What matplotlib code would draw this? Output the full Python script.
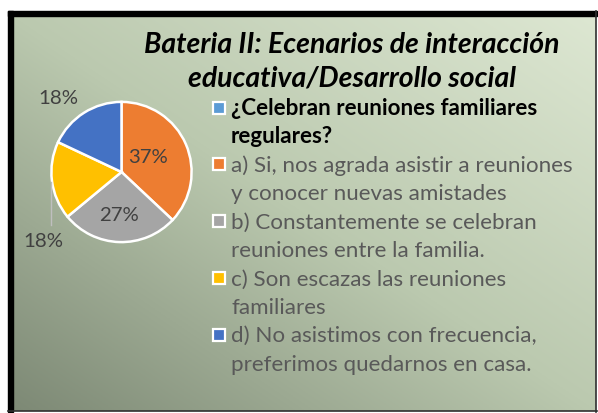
import numpy as np
import matplotlib
matplotlib.use("Agg")
import matplotlib.pyplot as plt
from matplotlib.patches import Rectangle

# chart data
title_lines = ["Bateria II: Ecenarios de interacción", "educativa/Desarrollo social"]
legend_header = ["¿Celebran reuniones familiares", "regulares?"]
categories = [
    ["a) Si, nos agrada asistir a reuniones", "y conocer nuevas amistades"],
    ["b) Constantemente se celebran", "reuniones entre la familia."],
    ["c) Son escazas las reuniones", "familiares"],
    ["d) No asistimos con frecuencia,", "preferimos quedarnos en casa."],
]
percentages = [37, 27, 18, 18]
header_color = "#5B9BD5"
slice_colors = ["#ED7D31", "#A5A5A5", "#FFC000", "#4472C4"]
# label positions in pie radius units
label_pos = [(0.385, 0.217), (-0.035, -0.601), (-1.112, -0.972), (-0.902, 1.063)]

W, H = 598, 414
FONT = "Lato"

fig = plt.figure(figsize=(W / 100, H / 100), dpi=100)
fig.patch.set_facecolor("white")
renderer = fig.canvas.get_renderer()


def fit_width(txt, target):
    w = txt.get_window_extent(renderer).width
    txt.set_fontsize(txt.get_fontsize() * target / w)
    return txt.get_fontsize()


# background panel in pixel coordinates
bg = fig.add_axes([0, 0, 1, 1])
bg.set_xlim(0, W)
bg.set_ylim(H, 0)
bg.axis("off")

x0, x1, y0, y1 = 13, 596, 17, 412
gx = np.linspace(0, 1, 300)
gy = np.linspace(0, 1, 200)
XX, YY = np.meshgrid(gx, gy)
t = (XX + (1 - YY)) / 2
stops = np.array([0.0, 0.5, 1.0])
c_lo = np.array([125, 137, 117]) / 255
c_mid = np.array([187, 201, 175]) / 255
c_hi = np.array([221, 231, 210]) / 255
img = np.zeros(t.shape + (3,))
for k in range(3):
    img[..., k] = np.interp(t, stops, [c_lo[k], c_mid[k], c_hi[k]])
bg.imshow(img, extent=(x0, x1, y1, y0), origin="upper", aspect="auto", zorder=0)
bg.set_xlim(0, W)
bg.set_ylim(H, 0)

bg.add_patch(Rectangle((8, 12), 589, 5, color="black", zorder=2))
bg.add_patch(Rectangle((8, 12), 5, 401, color="black", zorder=2))
bg.plot([596, 596], [12, 413], color="#303030", lw=1.2, zorder=2)
bg.plot([8, 597], [412.5, 412.5], color="#303030", lw=1.2, zorder=2)

# title
t1 = bg.text(352, 53, title_lines[0], ha="center", va="baseline", fontsize=16,
             fontfamily=FONT, fontweight="bold", fontstyle="italic", color="black")
size = fit_width(t1, 417)
bg.text(352, 87, title_lines[1], ha="center", va="baseline", fontsize=size,
        fontfamily=FONT, fontweight="bold", fontstyle="italic", color="black")

# legend
probe = bg.text(231, 0, categories[0][0], fontsize=14, fontfamily=FONT)
lsize = fit_width(probe, 341)
probe.remove()

entries = [(legend_header, header_color, "black", "bold")]
for lines, col in zip(categories, slice_colors):
    entries.append((lines, col, "#595959", "normal"))

base = 115
step = 28.4
row = 0
for lines, col, tcol, weight in entries:
    yb = base + row * step
    bg.add_patch(Rectangle((212.5, yb - 12.5), 12, 12, facecolor=col,
                           edgecolor="white", lw=1.6, zorder=3))
    for ln in lines:
        bg.text(231, base + row * step, ln, ha="left", va="baseline",
                fontsize=lsize, fontfamily=FONT, fontweight=weight, color=tcol)
        row += 1

# pie
cx, cy, r = 121.5, 173, 71.5
pax = fig.add_axes([(cx - r) / W, (H - cy - r) / H, 2 * r / W, 2 * r / H])
wedges, _ = pax.pie(percentages, colors=slice_colors, startangle=90,
                    counterclock=False, radius=1,
                    wedgeprops=dict(edgecolor="white", linewidth=1.8))
pax.set_xlim(-1.02, 1.02)
pax.set_ylim(-1.02, 1.02)
pax.set_aspect("equal")
pax.axis("off")

psize = None
for pct, (lx, ly) in zip(percentages, label_pos):
    tx = pax.text(lx, ly, f"{pct}%", ha="center", va="center", fontsize=14,
                  fontfamily=FONT, color="#404040")
    if psize is None:
        psize = fit_width(tx, 40)
    else:
        tx.set_fontsize(psize)

pax.plot([-1.0, -1.0], [-0.14, -0.75], color="#BFBFBF", lw=1, clip_on=False)

fig.savefig("out.png", dpi=100)
